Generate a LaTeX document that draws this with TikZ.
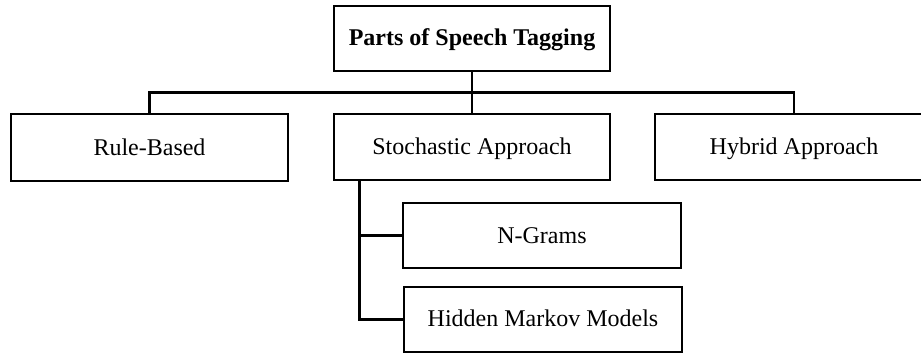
\documentclass[tikz,border=0pt]{standalone}
\usepackage{fontspec}
\setmainfont{Liberation Serif}
\usetikzlibrary{calc}
\begin{document}
\begin{tikzpicture}[x=0.5pt,y=-0.5pt,
  box/.style={draw=black,line width=1.3pt,rectangle,inner sep=0pt,
    minimum width=#1*0.5pt,text height=7.8pt,text depth=0pt,
    font=\fontsize{12}{14}\selectfont},
  box/.default=277,
  conn/.style={draw=black,line width=1.3pt}]
\useasboundingbox (0,0) rectangle (921,356);
\clip (0,0) rectangle (921,356);
\node[box=276,minimum height=32.5pt,text height=6.8pt,font=\fontsize{12}{14}\selectfont\bfseries] (title) at (472,38.5) {Parts of Speech Tagging};
\node[box=277,minimum height=33.5pt] (rule) at (149.5,147.5) {Rule-Based};
\node[box=276,minimum height=33pt] (stoch) at (472,147) {Stochastic Approach};
\node[box=278,minimum height=33pt] (hybrid) at (794,147) {Hybrid Approach};
\node[box=278,minimum height=32.5pt] (ngram) at (542,235.5) {N-Grams};
\node[box=278,minimum height=32.5pt,text height=7.3pt] (hmm) at (543,319.5) {Hidden Markov Models};
\coordinate (mid) at ($(title.south)!0.5!(stoch.north)$);
\coordinate (stemtop) at ($(stoch.south west)+(27,0)$);
\draw[conn] (title.south) -- (stoch.north);
\draw[conn] (rule.north) |- (mid) -| (hybrid.north);
\draw[conn] (stemtop) |- (ngram.west);
\draw[conn] (stemtop) |- (hmm.west);
\end{tikzpicture}
\end{document}
